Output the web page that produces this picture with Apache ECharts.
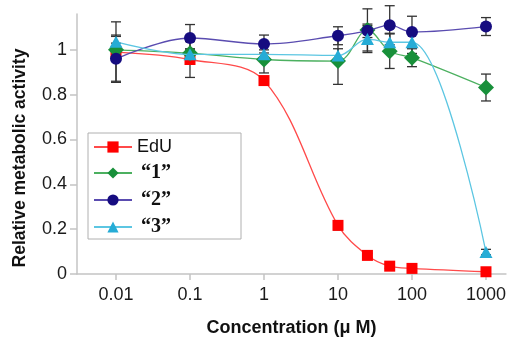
<!DOCTYPE html>
<html>
<head>
<meta charset="utf-8">
<script src="https://cdn.jsdelivr.net/npm/echarts@6/dist/echarts.min.js"></script>
<style>html,body{margin:0;padding:0;background:#fff;}#c{width:509px;height:342px;}</style>
</head>
<body>
<div id="c"></div>
<script>
// concentrations (µM)
var concentrations = [0.01, 0.1, 1, 10, 25, 50, 100, 1000];
var xTickValues = [0.01, 0.1, 1, 10, 100, 1000];
var xTickLabels = ['0.01', '0.1', '1', '10', '100', '1000'];
var yTickValues = [0, 0.2, 0.4, 0.6, 0.8, 1];
var seriesNames = ['EdU', '\u201c1\u201d', '\u201c2\u201d', '\u201c3\u201d'];
var valuesEdU = [0.99, 0.957, 0.863, 0.217, 0.083, 0.035, 0.025, 0.01];
var values1   = [1.0, 0.985, 0.957, 0.95, 1.089, 0.994, 0.965, 0.832];
var values2   = [0.96, 1.053, 1.026, 1.063, 1.085, 1.11, 1.08, 1.104];
var values3   = [1.036, 0.98, 0.98, 0.975, 1.048, 1.034, 1.034, 0.098];
var errEdU = [0.135, 0.08, 0.01, 0.02, 0.01, 0.01, 0.005, 0.005];
var err1   = [0.03, 0.02, 0.06, 0.104, 0.094, 0.077, 0.04, 0.06];
var err2   = [0.1, 0.06, 0.04, 0.04, 0.03, 0.087, 0.07, 0.04];
var err3   = [0.03, 0.02, 0.02, 0.03, 0.06, 0.04, 0.05, 0.012];

var allValues = [valuesEdU, values1, values2, values3];
var allErr = [errEdU, err1, err2, err3];
var lineColors = ['#ff4a4a', '#4cb060', '#5a4cb0', '#5cc6e2'];
var markColors = ['#ff0000', '#18903a', '#160c80', '#26acd6'];
var symbols = ['rect', 'diamond', 'circle', 'triangle'];
var symbolSizes = [11, [16, 16], 12, [13, 12]];

function lg(v) { return Math.log10(v); }

var series = [];
// error bars
allValues.forEach(function (vals, i) {
  var d = vals.map(function (v, k) { return [lg(concentrations[k]), v - allErr[i][k], v + allErr[i][k]]; });
  series.push({
    type: 'custom', z: 1, silent: true,
    data: d,
    renderItem: function (params, api) {
      var x = api.value(0);
      var lo = api.coord([x, api.value(1)]);
      var hi = api.coord([x, api.value(2)]);
      var w = 5;
      var st = { stroke: '#333', lineWidth: 1.3 };
      return { type: 'group', children: [
        { type: 'line', shape: { x1: lo[0], y1: lo[1], x2: hi[0], y2: hi[1] }, style: st },
        { type: 'line', shape: { x1: lo[0] - w, y1: lo[1], x2: lo[0] + w, y2: lo[1] }, style: st },
        { type: 'line', shape: { x1: hi[0] - w, y1: hi[1], x2: hi[0] + w, y2: hi[1] }, style: st }
      ]};
    }
  });
});
allValues.forEach(function (vals, i) {
  series.push({
    name: seriesNames[i],
    type: 'line',
    z: 3 + i,
    smooth: 0.35,
    data: vals.map(function (v, k) { return [lg(concentrations[k]), v]; }),
    symbol: symbols[i],
    symbolSize: symbolSizes[i],
    showAllSymbol: true,
    lineStyle: { color: lineColors[i], width: 1.3 },
    itemStyle: { color: markColors[i], opacity: 1 },
    emphasis: { disabled: true }
  });
});

var chart = echarts.init(document.getElementById('c'), null, { renderer: 'canvas' });
chart.setOption({
  animation: false,
  backgroundColor: '#fff',
  textStyle: { fontFamily: 'Liberation Sans, Arial, sans-serif' },
  grid: { left: 77, top: 14, right: 2, bottom: 63, containLabel: false },
  xAxis: {
    type: 'value',
    min: lg(0.01) - 0.527,
    max: 3.27,
    name: 'Concentration (\u03bc M)',
    nameLocation: 'middle',
    nameGap: 45,
    nameTextStyle: { fontSize: 18, fontWeight: 'bold', color: '#111', fontFamily: 'Liberation Sans' },
    axisLine: { onZero: false, lineStyle: { color: '#c4c4c4', width: 1.5 } },
    axisTick: { show: true, length: 6, lineStyle: { color: '#c4c4c4', width: 1.5 }, customValues: xTickValues.map(lg) },
    axisLabel: {
      fontSize: 18, color: '#1a1a1a', margin: 12,
      customValues: xTickValues.map(lg),
      formatter: function (v) {
        var idx = xTickValues.map(lg).findIndex(function (t) { return Math.abs(t - v) < 1e-6; });
        return idx >= 0 ? xTickLabels[idx] : '';
      }
    },
    splitLine: { show: false }
  },
  yAxis: {
    type: 'value',
    min: 0,
    max: 1.16,
    axisLine: { show: true, onZero: false, lineStyle: { color: '#c4c4c4', width: 1.5 } },
    axisTick: { show: true, length: 7, lineStyle: { color: '#c4c4c4', width: 1.5 }, customValues: yTickValues },
    axisLabel: { fontSize: 18, color: '#1a1a1a', margin: 10, customValues: yTickValues,
      formatter: function (v) { return String(Math.round(v * 10) / 10); } },
    splitLine: { show: false }
  },
  legend: {
    orient: 'vertical',
    left: 88, top: 133,
    z: 10,
    itemWidth: 38, itemHeight: 14, itemGap: 7,
    data: seriesNames,
    formatter: function (n) { return n === 'EdU' ? '{a|' + n + '}' : '{b|' + n + '}'; },
    textStyle: {
      rich: {
        a: { fontSize: 18, color: '#111', fontFamily: 'Liberation Sans', lineHeight: 18 },
        b: { fontSize: 20, fontWeight: 'bold', color: '#111', fontFamily: 'Liberation Serif', lineHeight: 18, padding: [0, 0, 0, 4] }
      }
    }
  },
  graphic: [
    { type: 'rect', z: 5, shape: { x: 88, y: 133, width: 153, height: 106 }, style: { fill: '#fff', stroke: '#b0b0b0', lineWidth: 1 } },
    { type: 'text', x: 20, y: 158, rotation: Math.PI / 2, z: 5,
      style: { text: 'Relative metabolic activity', fontSize: 17.5, fontWeight: 'bold', fill: '#111', fontFamily: 'Liberation Sans', align: 'center', verticalAlign: 'middle' } }
  ],
  series: series
});
</script>
</body>
</html>
